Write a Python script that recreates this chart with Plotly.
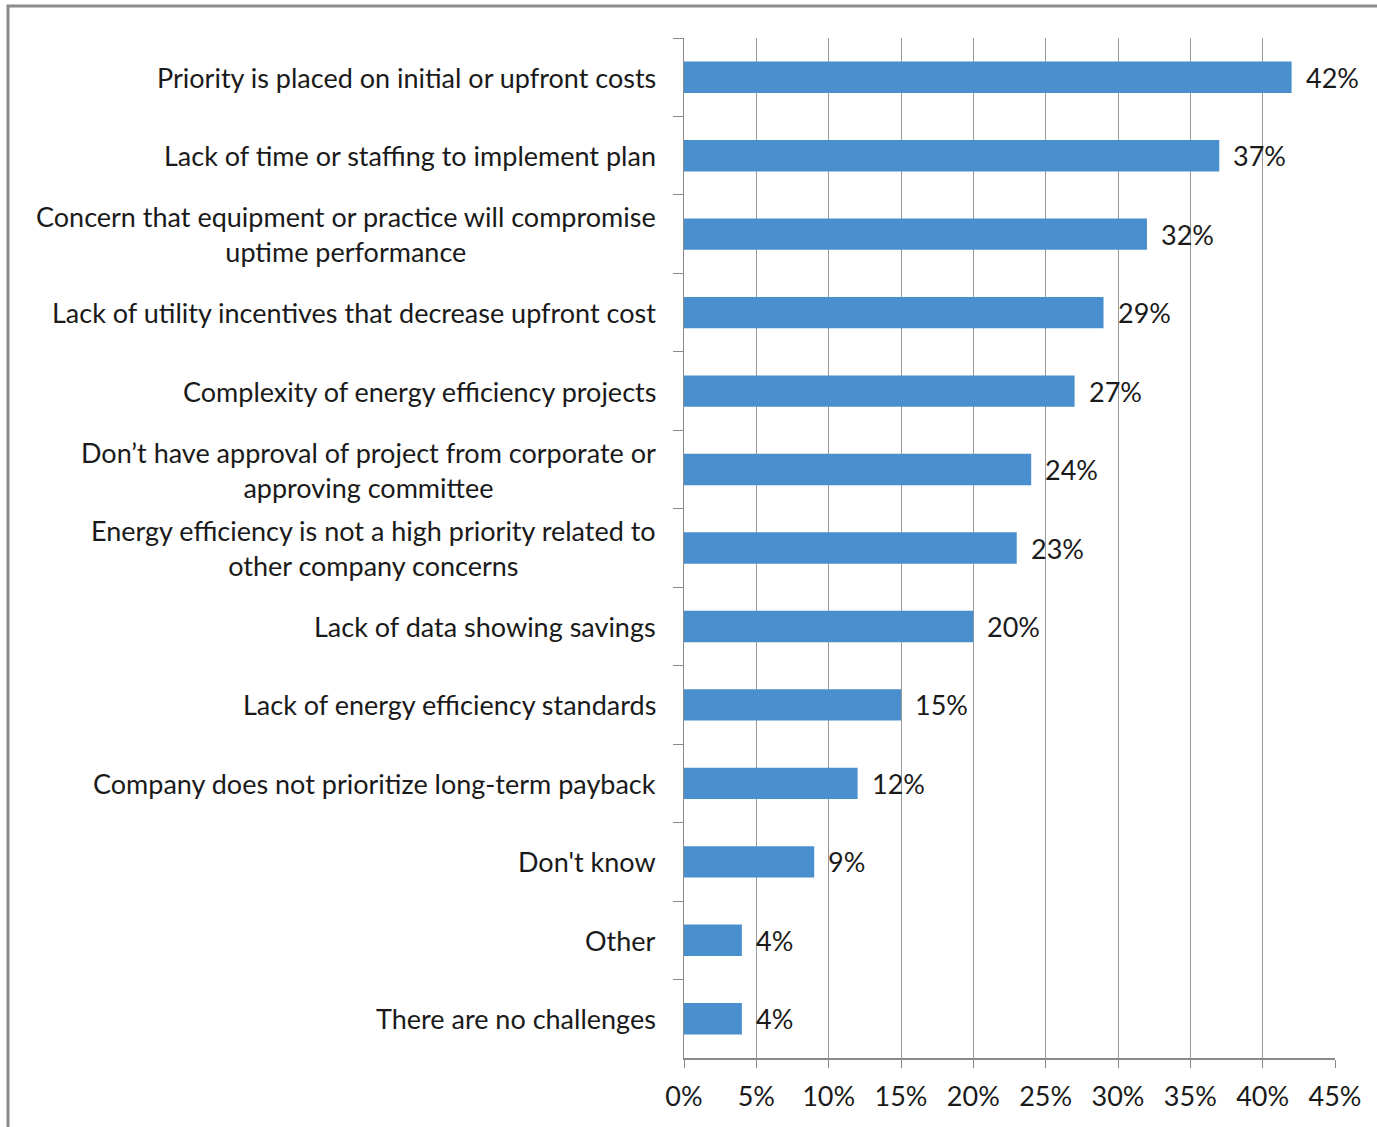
import plotly.graph_objects as go

# Survey responses: barriers to energy efficiency projects
categories = [
    "Priority is placed on initial or upfront costs",
    "Lack of time or staffing to implement plan",
    "Concern that equipment or practice will compromise<br>uptime performance",
    "Lack of utility incentives that decrease upfront cost",
    "Complexity of energy efficiency projects",
    "Don’t have approval of project from corporate or<br>approving committee",
    "Energy efficiency is not a high priority related to<br>other company concerns",
    "Lack of data showing savings",
    "Lack of energy efficiency standards",
    "Company does not prioritize long-term payback",
    "Don't know",
    "Other",
    "There are no challenges",
]
values = [42, 37, 32, 29, 27, 24, 23, 20, 15, 12, 9, 4, 4]
x_ticks = [0, 5, 10, 15, 20, 25, 30, 35, 40, 45]
x_tick_labels = [f"{t}%" for t in x_ticks]

FONT = "Lato"
FONT_SIZE = 27
TEXT_COLOR = "#1a1a1a"
BAR_COLOR = "#4A8FCD"
GRID_COLOR = "#9a9a9a"
AXIS_COLOR = "#8a8a8a"

W, H = 1377, 1127
L, R, T, B = 684, 42, 38, 69
plot_w = W - L - R
plot_h = H - T - B

fig = go.Figure()
fig.add_trace(go.Bar(
    x=values,
    y=categories,
    orientation="h",
    marker=dict(color=BAR_COLOR, line=dict(width=0)),
    width=0.4,
    hoverinfo="skip",
))

annotations = []
# category labels, centred line-by-line and right aligned against the axis
for cat in categories:
    annotations.append(dict(
        x=0, xref="paper", y=cat, yref="y",
        text=cat, showarrow=False,
        xanchor="right", yanchor="middle", align="center",
        xshift=-26,
        font=dict(family=FONT, size=FONT_SIZE, color=TEXT_COLOR),
    ))
# value labels at the end of each bar
for cat, v in zip(categories, values):
    annotations.append(dict(
        x=v, xref="x", y=cat, yref="y",
        text=f"{v}%", showarrow=False,
        xanchor="left", yanchor="middle",
        xshift=12,
        font=dict(family=FONT, size=FONT_SIZE, color=TEXT_COLOR),
    ))

# outer frame of the chart (top and left edges visible)
fx0 = (8 - L) / plot_w
fy1 = (H - B - 6) / plot_h
fig.add_shape(type="rect", xref="paper", yref="paper",
              x0=fx0, x1=1.5, y0=-0.5, y1=fy1,
              line=dict(color="#8c8c8c", width=3), layer="below")

fig.update_layout(
    width=W, height=H,
    margin=dict(l=L, r=R, t=T, b=B, pad=0),
    paper_bgcolor="white", plot_bgcolor="white",
    showlegend=False,
    font=dict(family=FONT, size=FONT_SIZE, color=TEXT_COLOR),
    annotations=annotations,
    xaxis=dict(
        range=[0, 45],
        tickvals=x_ticks, ticktext=x_tick_labels,
        showgrid=True, gridcolor=GRID_COLOR, gridwidth=1,
        zeroline=False,
        showline=True, linecolor=AXIS_COLOR, linewidth=2,
        ticks="outside", ticklen=8, tickcolor=AXIS_COLOR, tickwidth=1,
        ticklabelstandoff=6,
        tickfont=dict(family=FONT, size=FONT_SIZE, color=TEXT_COLOR),
        fixedrange=True,
    ),
    yaxis=dict(
        categoryorder="array", categoryarray=categories,
        autorange="reversed",
        showticklabels=False,
        tickson="boundaries",
        ticks="outside", ticklen=10, tickcolor=AXIS_COLOR, tickwidth=1,
        showline=True, linecolor=AXIS_COLOR, linewidth=1,
        showgrid=False, zeroline=False,
        fixedrange=True,
    ),
)

fig.write_html("out.html")
